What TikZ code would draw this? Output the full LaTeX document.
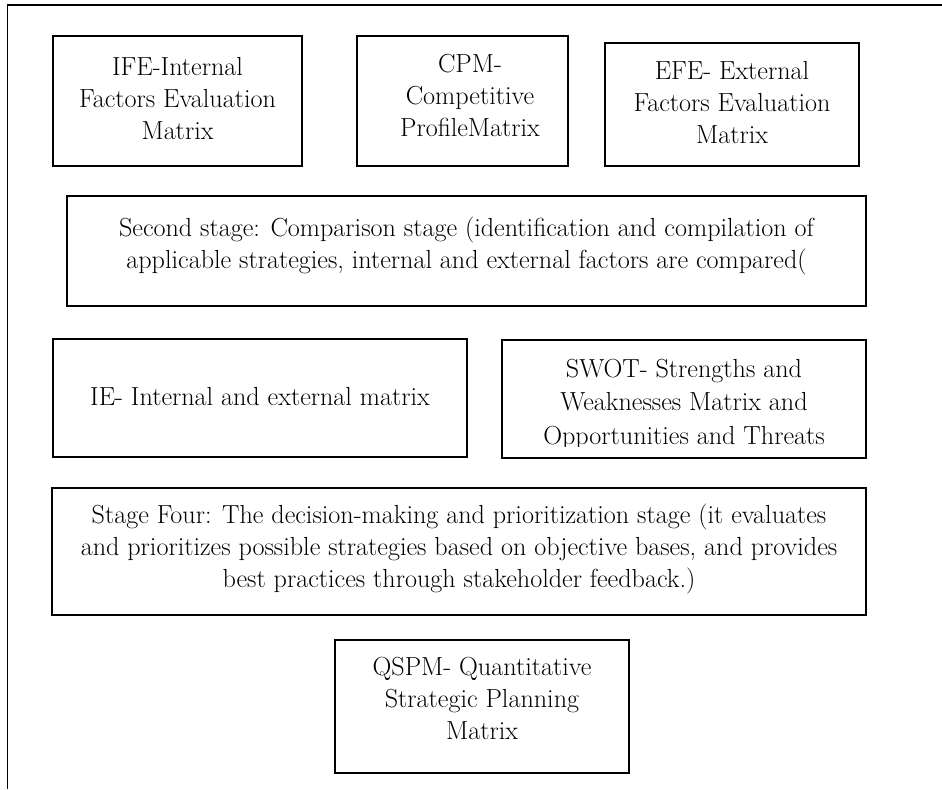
\documentclass[tikz,border=0pt]{standalone}
\usepackage{fontspec}
\usetikzlibrary{fit}
\begin{document}
\begin{tikzpicture}[x=0.75pt,y=-0.75pt,
  box/.style={draw, line width=0.9pt, inner sep=0pt, rectangle},
  txt/.style={align=center, inner sep=0pt, anchor=base, font=\fontsize{19.6}{24}\selectfont}]
\useasboundingbox (0,0) rectangle (942,789);
% page frame (top and left edges only)
\coordinate (ftl) at (7.5,5);
\coordinate (ftr) at (942,5);
\coordinate (fbl) at (7.5,789);
\draw[line width=1.1pt] (ftr) -- (ftl) -- (fbl);
% first row (anchor base = baseline of the last line)
\node[box, fit={(53,36) (302,166)}] (ife) {};
\node[txt] (ifet) at (177.5,139) {IFE-Internal\\Factors Evaluation\\Matrix};
\node[box, fit={(357,36) (568,166)}] (cpm) {};
\node[txt] (cpmt) at (470,136) {CPM-\\Competitive\\ProfileMatrix};
\node[box, fit={(605,43) (859,166)}] (efe) {};
\node[txt] (efet) at (732,143) {EFE- External\\Factors Evaluation\\Matrix};
% second stage
\node[box, fit={(67,196) (866,306)}] (second) {};
\node[txt] (secondt) at (466.5,268) {Second stage: Comparison stage (identification and compilation of\\applicable strategies, internal and external factors are compared(};
% third row
\node[box, fit={(53,339) (467,457)}] (ie) {};
\node[txt] (iet) at (260,405) {IE- Internal and external matrix};
\node[box, fit={(502,340) (866,458)}] (swot) {};
\begin{scope}
\clip (502,340) rectangle (866,446);
\node[txt, font=\fontsize{19.6}{25}\selectfont] (swott) at (684,444) {SWOT- Strengths and\\Weaknesses Matrix and\\Opportunities and Threats};
\end{scope}
% stage four
\node[box, fit={(52,488) (866,615)}] (four) {};
\node[txt] (fourt) at (459,587) {Stage Four: The decision-making and prioritization stage (it evaluates\\and prioritizes possible strategies based on objective bases, and provides\\best practices through stakeholder feedback.)};
% QSPM
\node[box, fit={(335,640) (629,773)}] (qspm) {};
\node[txt] (qspmt) at (482,739) {QSPM- Quantitative\\Strategic Planning\\Matrix};
\end{tikzpicture}
\end{document}
